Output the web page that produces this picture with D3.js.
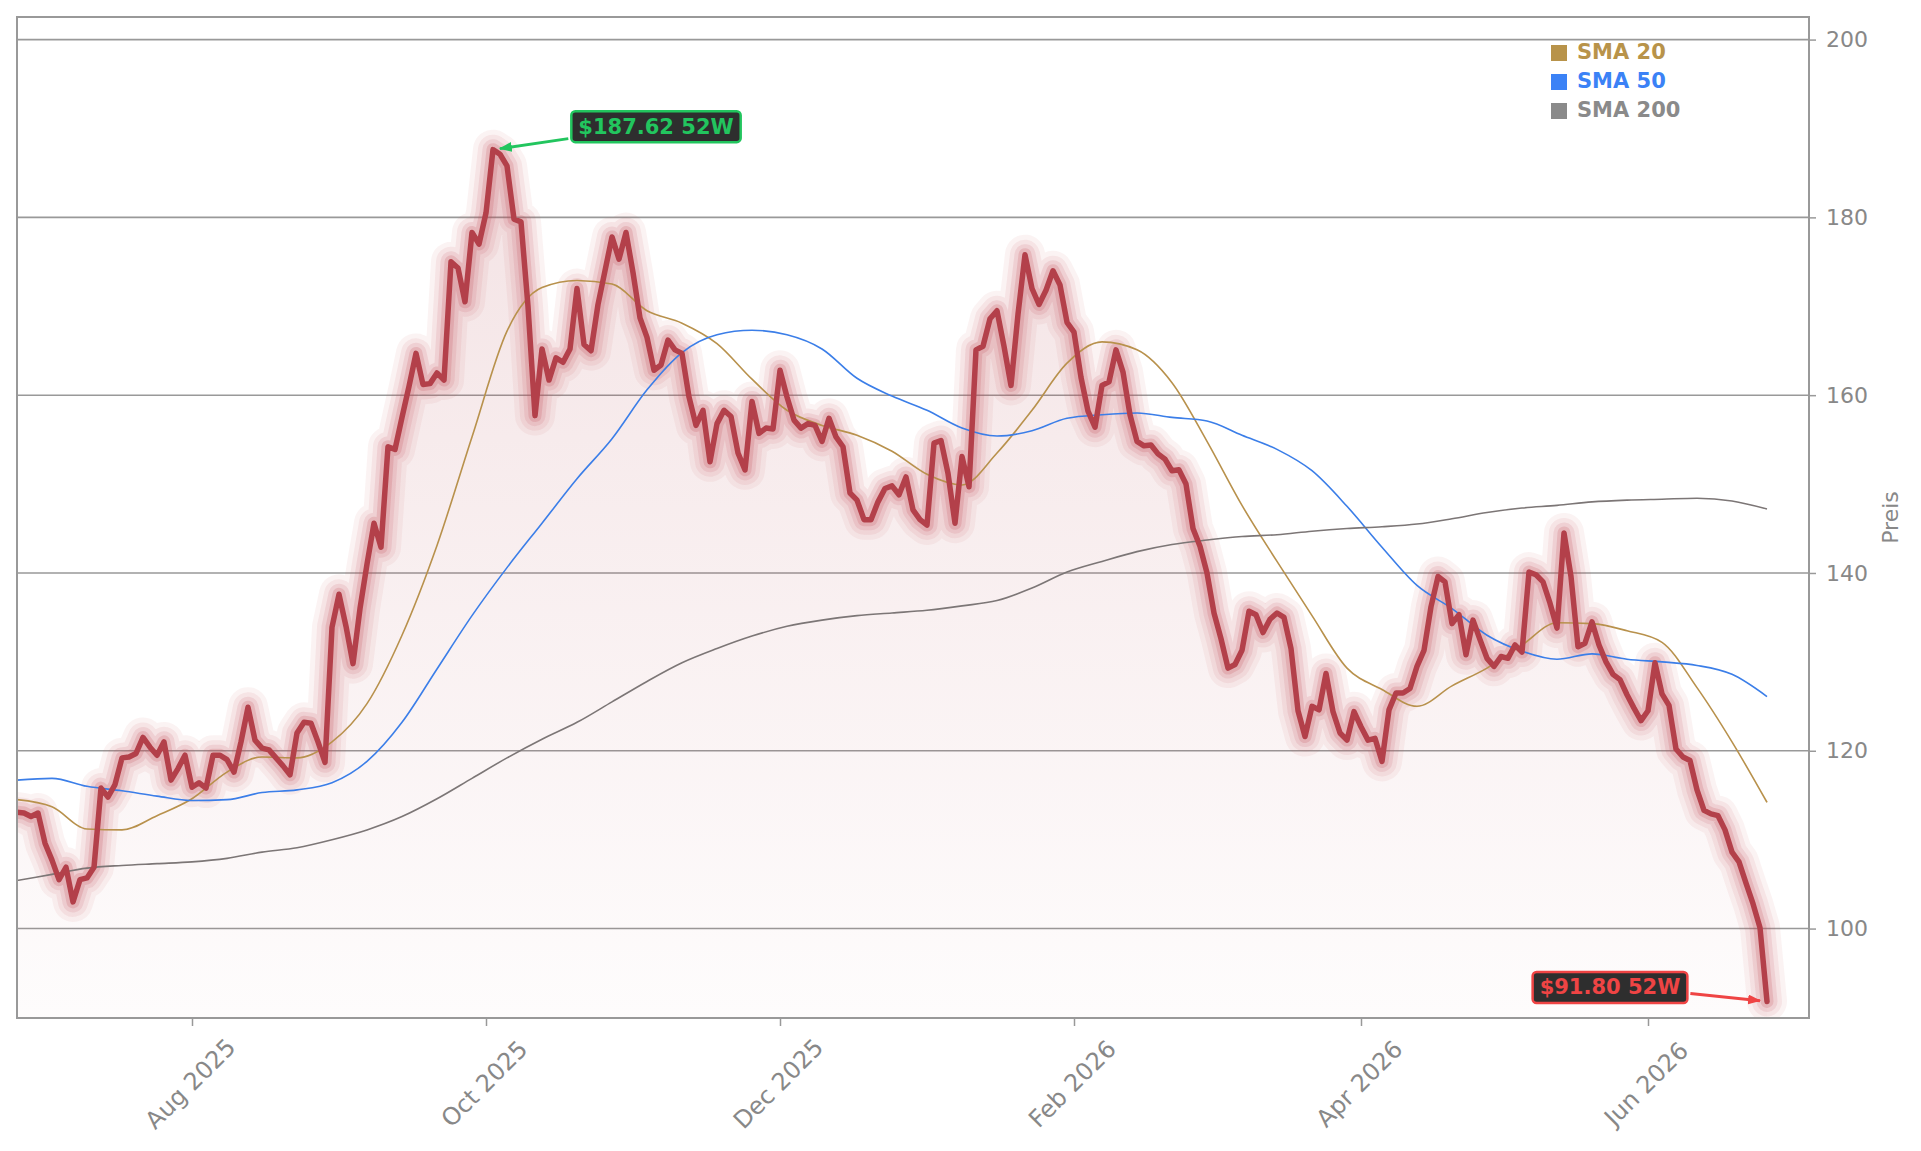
<!DOCTYPE html>
<html lang="de">
<head>
<meta charset="utf-8">
<title>Kursverlauf 52 Wochen</title>
<script src="https://cdn.jsdelivr.net/npm/d3@7"></script>
<style>
  body { margin: 0; background: #fff; }
  svg { display: block; font-family: "DejaVu Sans", sans-serif; }
  .axis path { display: none; }
  .axis line { stroke: #999; stroke-width: 1.5; }
  .axis text { fill: #888; font-family: "DejaVu Sans", sans-serif; font-size: 22px; }
  .axis.x text { font-size: 24px; }
</style>
</head>
<body>
<script>

// daily closes, one per trading day starting 2025-06-26
var closes = [
  113.1, 113.0, 112.6, 113.0, 109.6, 107.7, 105.5, 106.9, 103.0, 105.5,
  105.7, 106.9, 115.8, 114.8, 116.2, 119.2, 119.3, 119.7, 121.5, 120.4,
  119.5, 121.0, 116.7, 118.0, 119.5, 115.9, 116.4, 115.8, 119.5, 119.5,
  119.0, 117.6, 121.0, 124.9, 121.2, 120.3, 120.1, 119.2, 118.3, 117.3,
  122.0, 123.2, 123.1, 121.0, 118.7, 133.9, 137.6, 134.0, 129.8, 136.0,
  141.0, 145.6, 142.9, 154.2, 153.9, 157.5, 161.0, 164.7, 161.2, 161.3,
  162.5, 161.7, 175.0, 174.3, 170.5, 178.3, 177.0, 180.5, 187.62, 187.1,
  185.8, 179.8, 179.5, 170.0, 157.7, 165.2, 161.7, 164.2, 163.7, 165.2,
  172.0, 165.7, 165.0, 170.2, 174.0, 177.8, 175.3, 178.3, 173.8, 168.7,
  166.5, 162.8, 163.4, 166.2, 165.1, 164.7, 159.8, 156.6, 158.3, 152.5,
  156.8, 158.3, 157.6, 153.5, 151.6, 159.3, 155.7, 156.3, 156.2, 162.8,
  159.8, 157.2, 156.3, 156.8, 156.6, 154.8, 157.4, 155.3, 154.2, 149.0,
  148.2, 146.0, 146.0, 148.0, 149.5, 149.8, 148.8, 150.8, 147.1, 146.0,
  145.4, 154.6, 154.9, 151.2, 145.6, 153.1, 149.7, 165.1, 165.5, 168.6,
  169.5, 165.5, 161.1, 169.1, 175.8, 172.0, 170.2, 171.8, 174.0, 172.4,
  168.2, 167.1, 162.0, 158.2, 156.4, 161.1, 161.5, 165.1, 162.6, 157.8,
  154.8, 154.3, 154.4, 153.4, 152.8, 151.5, 151.6, 150.0, 145.0, 143.0,
  140.0, 135.5, 132.6, 129.3, 129.7, 131.3, 135.7, 135.3, 133.3, 134.8,
  135.5, 135.0, 131.5, 124.5, 121.6, 125.0, 124.6, 128.7, 124.4, 122.0,
  121.2, 124.4, 122.7, 121.2, 121.4, 118.8, 124.6, 126.5, 126.5, 127.0,
  129.5, 131.3, 136.2, 139.6, 139.0, 134.3, 135.3, 130.8, 134.7, 132.5,
  130.4, 129.5, 130.6, 130.4, 131.9, 131.1, 140.1, 139.8, 139.0, 136.6,
  133.8, 144.5, 139.6, 131.7, 132.1, 134.5, 131.9, 130.0, 128.6, 128.0,
  126.3, 124.8, 123.4, 124.5, 129.9, 126.4, 125.1, 120.2, 119.3, 118.9,
  115.6, 113.3, 112.9, 112.7, 111.1, 108.6, 107.5, 105.1, 102.8, 100.1,
  91.8
];

// moving averages, read every 5th trading day
var smaStep = 5;
var sma20 = [
  114.5, 113.7, 111.2, 111.1, 112.7, 114.6, 117.6, 119.3, 119.2, 121.0,
  125.3, 133.0, 143.1, 155.3, 167.2, 172.1, 172.9, 172.5, 169.5, 168.1,
  165.8, 161.8, 158.3, 156.6, 155.5, 153.7, 151.1, 149.9, 153.5, 158.3,
  163.6, 166.0, 165.1, 161.4, 154.8, 147.6, 141.3, 135.2, 129.3, 126.9,
  125.0, 127.3, 129.3, 131.9, 134.4, 134.3, 133.5, 132.2, 127.1, 121.0,
  114.2
];
var sma50 = [
  116.7, 116.9, 116.0, 115.5, 114.9, 114.4, 114.5, 115.3, 115.6, 116.4,
  118.8, 123.2, 129.2, 135.2, 140.6, 145.6, 150.6, 155.1, 160.6, 164.8,
  166.8, 167.3, 166.8, 165.2, 161.9, 159.9, 158.3, 156.3, 155.4, 156.0,
  157.4, 157.8, 158.0, 157.5, 157.1, 155.5, 153.9, 151.5, 147.5, 142.9,
  138.6, 136.0, 133.0, 131.2, 130.3, 130.9, 130.3, 130.0, 129.6, 128.6,
  126.1
];
var sma200 = [
  105.4, 106.1, 106.8, 107.1, 107.3, 107.5, 107.9, 108.6, 109.1, 110.0,
  111.1, 112.6, 114.6, 116.9, 119.2, 121.3, 123.2, 125.5, 127.8, 129.9,
  131.5, 132.9, 134.0, 134.7, 135.2, 135.5, 135.8, 136.3, 136.9, 138.3,
  140.1, 141.3, 142.4, 143.2, 143.7, 144.1, 144.3, 144.7, 145.0, 145.2,
  145.5, 146.1, 146.8, 147.3, 147.6, 148.0, 148.2, 148.3, 148.4, 148.1,
  147.2
];

var seriesNames = ["SMA 20", "SMA 50", "SMA 200"];
var seriesColors = ["#b8934a", "#3b82f6", "#8a8a8a"];
var lineColors = ["#b8914c", "#3b7ee8", "#7c7676"];

var yTicks = [100, 120, 140, 160, 180, 200];
var startDate = "2025-06-26";
var holidays = ["2025-07-04", "2025-09-01", "2025-11-27", "2025-12-25", "2026-01-01",
                "2026-01-19", "2026-02-16", "2026-04-03", "2026-05-25", "2026-06-19"];

var W = 1921, H = 1151;
var plotLeft = 17, plotRight = 1809, plotTop = 17, plotBottom = 1018;
var priceColor = "#b3404a";

// trading-day calendar
var parseDay = d3.timeParse("%Y-%m-%d");
var dayKey = d3.timeFormat("%Y-%m-%d");
var dates = [];
var day = parseDay(startDate);
while (dates.length < closes.length) {
  var wd = day.getDay();
  if (wd !== 0 && wd !== 6 && holidays.indexOf(dayKey(day)) < 0) dates.push(day);
  day = d3.timeDay.offset(day, 1);
}

// first trading day of every second month gets a tick
var tickIdx = [];
for (var i = 1; i < dates.length; i++) {
  if (dates[i].getMonth() !== dates[i - 1].getMonth() && dates[i].getMonth() % 2 === 1) tickIdx.push(i);
}

var xScale = d3.scaleLinear().domain([0, 256]).range([plotLeft, plotRight]);
var yScale = d3.scaleLinear().domain([89.94, 202.54]).range([plotBottom, plotTop]);

var svg = d3.select("body").append("svg")
  .attr("width", W)
  .attr("height", H);

var defs = svg.append("defs");
defs.append("clipPath").attr("id", "plotClip")
  .append("rect")
  .attr("x", plotLeft).attr("y", plotTop)
  .attr("width", plotRight - plotLeft).attr("height", plotBottom - plotTop);

var grad = defs.append("linearGradient")
  .attr("id", "areaGrad")
  .attr("gradientUnits", "userSpaceOnUse")
  .attr("x1", 0).attr("x2", 0)
  .attr("y1", plotTop).attr("y2", plotBottom);
grad.append("stop").attr("offset", 0).attr("stop-color", priceColor).attr("stop-opacity", 0.17);
grad.append("stop").attr("offset", 1).attr("stop-color", priceColor).attr("stop-opacity", 0.015);

function arrowMarker(id, color) {
  defs.append("marker")
    .attr("id", id)
    .attr("viewBox", "0 0 13 10")
    .attr("refX", 12).attr("refY", 5)
    .attr("markerUnits", "userSpaceOnUse")
    .attr("markerWidth", 13).attr("markerHeight", 10)
    .attr("orient", "auto")
    .append("path")
    .attr("d", "M0,0 L13,5 L0,10 Z")
    .attr("fill", color);
}
arrowMarker("arrowUp", "#22c55e");
arrowMarker("arrowDown", "#ef4444");

//Gridlines
svg.append("g")
  .selectAll("line")
  .data(yTicks)
  .enter()
  .append("line")
  .attr("x1", plotLeft).attr("x2", plotRight)
  .attr("y1", function(d) { return yScale(d); })
  .attr("y2", function(d) { return yScale(d); })
  .attr("stroke", "#999")
  .attr("stroke-width", 1.6);

var plot = svg.append("g").attr("clip-path", "url(#plotClip)");

var pts = closes.map(function(v, i) { return [i, v]; });

//Area under the price
var area = d3.area()
  .x(function(d) { return xScale(d[0]); })
  .y0(plotBottom)
  .y1(function(d) { return yScale(d[1]); });
plot.append("path")
  .datum(pts)
  .attr("d", area)
  .attr("fill", "url(#areaGrad)");

var priceLine = d3.line()
  .x(function(d) { return xScale(d[0]); })
  .y(function(d) { return yScale(d[1]); });

//Glow around the price line
var glow = [[40, 0.07], [30, 0.09], [21, 0.13], [13, 0.2]];
glow.forEach(function(g) {
  plot.append("path")
    .datum(pts)
    .attr("d", priceLine)
    .attr("fill", "none")
    .attr("stroke", "#c4505c")
    .attr("stroke-opacity", g[1])
    .attr("stroke-width", g[0])
    .attr("stroke-linejoin", "round")
    .attr("stroke-linecap", "round");
});

//Moving averages
var smaLine = d3.line()
  .x(function(d) { return xScale(d[0]); })
  .y(function(d) { return yScale(d[1]); })
  .curve(d3.curveMonotoneX);
[sma20, sma50, sma200].forEach(function(arr, k) {
  plot.append("path")
    .datum(arr.map(function(v, j) { return [j * smaStep, v]; }))
    .attr("d", smaLine)
    .attr("fill", "none")
    .attr("stroke", lineColors[k])
    .attr("stroke-width", 1.6);
});

//Price line
plot.append("path")
  .datum(pts)
  .attr("d", priceLine)
  .attr("fill", "none")
  .attr("stroke", priceColor)
  .attr("stroke-width", 5.5)
  .attr("stroke-linejoin", "round")
  .attr("stroke-linecap", "round");

//Axes
var yAxis = d3.axisRight(yScale)
  .tickValues(yTicks)
  .tickSize(7)
  .tickPadding(10);
svg.append("g")
  .attr("class", "axis y")
  .attr("transform", "translate(" + plotRight + ",0)")
  .call(yAxis);

var monthFmt = d3.timeFormat("%b %Y");
var xAxis = d3.axisBottom(xScale)
  .tickValues(tickIdx)
  .tickFormat(function(i) { return monthFmt(dates[i]); })
  .tickSize(8);
svg.append("g")
  .attr("class", "axis x")
  .attr("transform", "translate(0," + plotBottom + ")")
  .call(xAxis)
  .selectAll("text")
  .attr("x", 0).attr("y", 0).attr("dy", null)
  .attr("text-anchor", "middle")
  .attr("dominant-baseline", "central")
  .attr("transform", "translate(-2,66) rotate(-45)");

svg.append("text")
  .attr("transform", "translate(1890," + ((plotTop + plotBottom) / 2) + ") rotate(-90)")
  .attr("text-anchor", "middle")
  .attr("dominant-baseline", "central")
  .attr("fill", "#888")
  .attr("font-size", "22px")
  .text("Preis");

//Frame
svg.append("rect")
  .attr("x", plotLeft).attr("y", plotTop)
  .attr("width", plotRight - plotLeft).attr("height", plotBottom - plotTop)
  .attr("fill", "none")
  .attr("stroke", "#999")
  .attr("stroke-width", 2);

//Legend
var legend = svg.append("g").attr("transform", "translate(1551,53)");
seriesNames.forEach(function(name, k) {
  legend.append("rect")
    .attr("x", 0).attr("y", k * 29 - 8)
    .attr("width", 16).attr("height", 16)
    .attr("fill", seriesColors[k]);
  legend.append("text")
    .attr("x", 26).attr("y", k * 29 - 1.5)
    .attr("dominant-baseline", "central")
    .attr("font-size", "21px")
    .attr("font-weight", "bold")
    .attr("fill", seriesColors[k])
    .text(name);
});

//52 week high / low labels
var fmtPrice = d3.format(".2f");
function annotate(idx, dx, dy, color, marker, side) {
  var px = xScale(idx), py = yScale(closes[idx]);
  var cx = px + dx, cy = py + dy;
  var g = svg.append("g");
  var t = g.append("text")
    .attr("x", cx).attr("y", cy)
    .attr("text-anchor", "middle")
    .attr("dominant-baseline", "central")
    .attr("font-size", "21px")
    .attr("font-weight", "bold")
    .attr("fill", color)
    .text("$" + fmtPrice(closes[idx]) + " 52W");
  var bb = t.node().getBBox();
  g.insert("rect", "text")
    .attr("x", bb.x - 7).attr("y", cy - 15.5)
    .attr("width", bb.width + 14).attr("height", 31)
    .attr("rx", 4)
    .attr("fill", "#2e2e2e")
    .attr("stroke", color)
    .attr("stroke-width", 2.5);
  var sx = side < 0 ? bb.x - 10 : bb.x + bb.width + 10;
  var sy = side < 0 ? cy + 12 : cy + 6;
  var len = Math.hypot(sx - px, sy - py);
  var ex = px + (sx - px) / len * 7, ey = py + (sy - py) / len * 7;
  svg.append("line")
    .attr("x1", sx).attr("y1", sy)
    .attr("x2", ex).attr("y2", ey)
    .attr("stroke", color)
    .attr("stroke-width", 3)
    .attr("marker-end", "url(#" + marker + ")");
}
annotate(d3.maxIndex(closes), 163, -23, "#22c55e", "arrowUp", -1);
annotate(d3.minIndex(closes), -157, -14, "#ef4444", "arrowDown", 1);

</script>
</body>
</html>
